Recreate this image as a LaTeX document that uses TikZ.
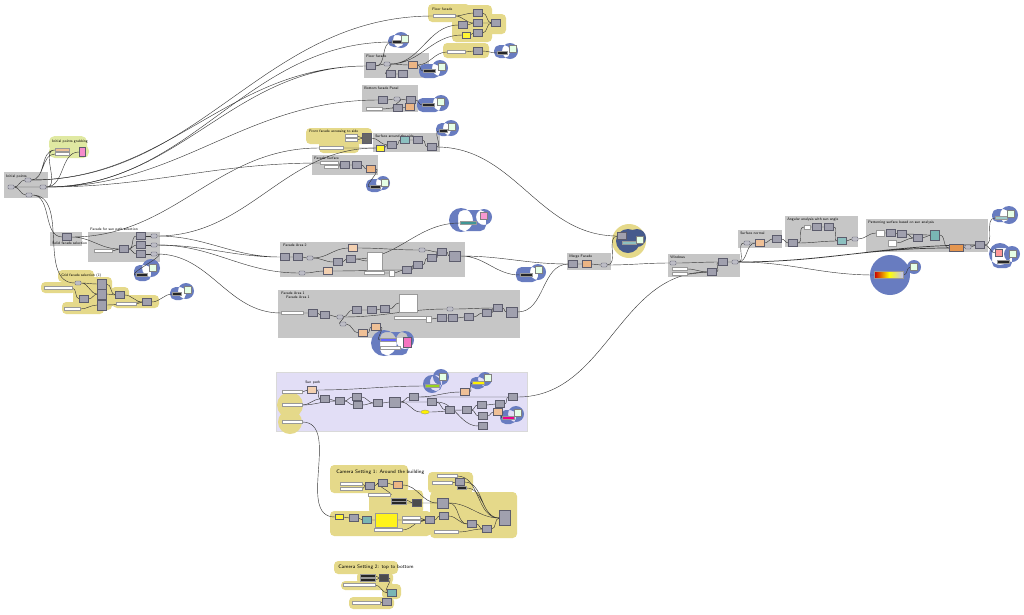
\documentclass[tikz,border=0pt]{standalone}
\usepackage{tikz}
\usepackage{xcolor}
\usetikzlibrary{positioning,fit,shapes.geometric}
\definecolor{grpgray}{RGB}{198,198,198}
\definecolor{compfill}{RGB}{160,160,174}
\definecolor{compedge}{RGB}{92,92,108}
\definecolor{yelblob}{RGB}{229,217,138}
\definecolor{limeblob}{RGB}{224,233,162}
\definecolor{blublob}{RGB}{104,124,192}
\definecolor{darkblob}{RGB}{70,90,140}
\definecolor{lavgrp}{RGB}{226,222,246}
\definecolor{orng}{RGB}{228,150,80}
\definecolor{tealc}{RGB}{64,150,150}
\definecolor{wirec}{RGB}{55,55,55}
\pgfdeclarelayer{back}
\pgfdeclarelayer{mid}
\pgfsetlayers{back,mid,main}

\begin{document}
\begin{tikzpicture}[
x=0.025cm, y=-0.025cm,
grp/.style={fill=grpgray, inner sep=0pt},
comp/.style={draw=compedge, fill=compfill, minimum width=0.22cm, minimum height=0.17cm, inner sep=0pt, line width=0.2pt},
bigcomp/.style={comp, minimum width=0.28cm, minimum height=0.26cm},
param/.style={draw=compedge, fill=compfill!70, rounded corners=0.6pt, minimum width=0.15cm, minimum height=0.1cm, inner sep=0pt, line width=0.2pt},
slider/.style={draw=black!40, fill=white, minimum width=0.42cm, minimum height=0.07cm, inner sep=0pt, line width=0.2pt},
darkbar/.style={slider, fill=black!85, minimum width=0.28cm},
panel/.style={draw=black!50, fill=green!10, minimum width=0.17cm, minimum height=0.17cm, inner sep=0pt, line width=0.2pt},
graph/.style={draw=black!40, fill=white, inner sep=0pt, line width=0.2pt},
glabel/.style={anchor=north west, inner sep=0pt, font=\sffamily\fontsize{2.6}{3}\selectfont},
camlabel/.style={anchor=north west, inner sep=0pt, font=\sffamily\fontsize{3.6}{4}\selectfont},
yblob/.style={fill=yelblob, rounded corners=3pt},
bblob/.style={fill=blublob, rounded corners=4pt},
wire/.style={draw=wirec, line width=0.3pt},
lr/.style={out=0, in=180}
]
\useasboundingbox (0,0) rectangle (1024,614);

% groups and blobs
\begin{pgfonlayer}{back}
\fill[white] (0,0) rectangle (1024,614);
\node[grp, fit={(4,172) (48,198)}] (gInit) {};
\node[grp, fit={(50,232) (82,246)}] (gSolid) {};
\node[grp, fit={(88,232) (160,262)}] (gSel) {};
\node[grp, fit={(364,53) (429,78)}] (gFloor) {};
\node[grp, fit={(362,85) (418,112)}] (gBottom) {};
\node[grp, fit={(373,133) (440,152)}] (gSide) {};
\node[grp, fit={(312,155) (378,175)}] (gSurf) {};
\node[grp, fit={(280,242) (465,277)}] (gArea2) {};
\node[grp, fit={(278,290) (520,338)}] (gArea1) {};
\node[grp, fill=lavgrp, draw=black!15, line width=0.2pt, fit={(276,372) (527,431)}] (gSun) {};
\node[grp, fit={(567,253) (611,270)}] (gMerge) {};
\node[grp, fit={(668,254) (740,277)}] (gWin) {};
\node[grp, fit={(738,230) (782,248)}] (gNormal) {};
\node[grp, fit={(785,216) (858,247)}] (gAngle) {};
\node[grp, fit={(866,219) (988,252)}] (gPattern) {};
% yellow blobs
\fill[limeblob, rounded corners=4pt] (49,136) rectangle (87,152) (49,145) rectangle (89,158);
\fill[yblob] (428,4) rectangle (470,22) (452,5) rectangle (492,42) (476,14) rectangle (506,34);
\fill[yblob] (443,43) rectangle (489,58);
\fill[yblob] (306,128) rectangle (372,144) (319,141) rectangle (359,153);
\fill[yblob] (58,270) rectangle (94,282) (41,282) rectangle (76,293) (73,277) rectangle (112,310)
  (62,302) rectangle (104,314) (111,287) rectangle (129,307) (113,295) rectangle (159,308);
\fill[yblob] (330,465) rectangle (408,493) (369,490) rectangle (423,514) (330,511) rectangle (431,536)
  (428,472) rectangle (473,493) (430,492) rectangle (517,538);
\fill[yblob] (334,561) rectangle (398,574) (357,572) rectangle (393,584) (341,581) rectangle (393,590)
  (382,584) rectangle (401,599) (349,597) rectangle (394,609);
\fill[yelblob] (290,405) circle (13) (290,422) circle (12);
\fill[yelblob] (629,241) circle (17);
% blue blobs
\fill[bblob] (401,40) circle (8) (388,35) rectangle (404,47);
\fill[bblob] (510,51) circle (8) (494,45) rectangle (510,58);
\fill[bblob] (440,68) circle (8) (419,64) rectangle (440,78);
\fill[bblob] (441,103) circle (8) (417,98) rectangle (441,112);
\fill[bblob] (451,128) circle (8) (436,123) rectangle (451,136);
\fill[bblob] (383,183) circle (7) (366,179) rectangle (383,192);
\fill[bblob] (461,220) circle (12) (484,217) circle (8) (458,210) rectangle (486,231);
\fill[bblob] (151,268) circle (9) (134,265) rectangle (151,281);
\fill[bblob] (186,291) circle (8) (170,287) rectangle (186,300);
\fill[bblob] (538,272) circle (8) (516,267) rectangle (538,282);
\fill[bblob] (384,343) circle (13) (405,340) circle (9) (380,332) rectangle (408,355);
\fill[bblob] (432,384) circle (9) (441,377) circle (8) (430,375) rectangle (442,391);
\fill[bblob] (485,379) circle (7) (470,377) rectangle (485,389);
\fill[bblob] (516,414) circle (8) (500,410) rectangle (516,424);
\fill[darkblob] (628,241) circle (12) (637,238) circle (9);
\fill[bblob] (890,275) circle (20) (914,267) circle (7);
\fill[bblob] (1009,215) circle (9) (992,209) rectangle (1009,222);
\fill[bblob] (1000,254) circle (11) (1012,254) circle (8) (992,248) rectangle (1012,268);
\end{pgfonlayer}

% group titles
\node[glabel] at (6,175) {Initial points};
\node[glabel] at (52,140) {Initial points grabbing};
\node[glabel] at (52,242) {Solid facade selection};
\node[glabel] at (90,228) {Facade for sun path selection};
\node[glabel] at (61,273) {Grid facade selection (ii)};
\node[glabel] at (366,55) {Floor facade};
\node[glabel] at (364,87) {Bottom facade Panel};
\node[glabel] at (309,130) {Front facade accessing to side};
\node[glabel] at (375,135) {Surface around the side};
\node[glabel] at (314,157) {Facade Surface};
\node[glabel] at (432,8) {Floor facade};
\node[glabel] at (283,244) {Facade Area 2};
\node[glabel] at (281,292) {Facade Area 1};
\node[glabel] at (286,296) {Facade Area 1};
\node[glabel] at (305,381) {Sun path};
\node[camlabel] at (336,470) {Camera Setting 1: Around the building};
\node[camlabel] at (338,565) {Camera Setting 2: top to bottom};
\node[glabel] at (569,255) {Merge Facade};
\node[glabel] at (670,256) {Windows};
\node[glabel] at (740,232) {Surface normal};
\node[glabel] at (787,218) {Angular analysis with sun angle};
\node[glabel] at (868,221) {Patterning surface based on sun analysis};

% initial points
\node[param] (i1) at (28,180) {};
\node[param] (i2) at (11,187) {};
\node[param] (i3) at (43,187) {};
\node[param] (i4) at (29,195) {};
\node[slider, minimum width=0.35cm, fill=orng!60] (g1) at (62,150) {};
\node[slider, minimum width=0.35cm] (g2) at (62,154) {};
\node[comp, fill=magenta!45, minimum width=0.15cm, minimum height=0.22cm] (g3) at (82,152) {};

% facade selection
\node[comp] (s1) at (67,237) {};
\node[slider, minimum width=0.45cm] (sl1) at (103,251) {};
\node[comp] (p1) at (124,249) {};
\node[comp] (p2) at (141,236) {};
\node[comp] (p3) at (141,245) {};
\node[comp] (p4) at (141,254) {};
\node[param] (q2) at (154,236) {};
\node[param] (q3) at (154,245) {};
\node[param] (q4) at (154,254) {};
\node[darkbar] (bs8) at (142,275) {};
\node[panel] (bp8) at (153,268) {};

% grid facade
\node[param] (gf1) at (78,283) {};
\node[slider, minimum width=0.7cm] (gfs1) at (58,288) {};
\node[comp, minimum height=0.25cm] (gf2) at (102,284) {};
\node[comp, minimum height=0.25cm] (gf3) at (102,294) {};
\node[comp, minimum height=0.25cm] (gf4) at (102,305) {};
\node[comp] (gf5) at (84,299) {};
\node[comp] (gf6) at (120,295) {};
\node[slider, minimum width=0.4cm] (gfs2) at (72,309) {};
\node[slider, minimum width=0.5cm] (gfs3) at (126,304) {};
\node[comp] (gf7) at (147,302) {};
\node[darkbar, minimum width=0.22cm] (bs9) at (177,294) {};
\node[panel] (bp9) at (188,290) {};

% floor facade
\node[comp] (ff1) at (371,66) {};
\node[param] (ff2) at (387,64) {};
\node[comp, fill=orng!70] (ff3) at (413,65) {};
\node[comp] (ff4) at (391,74) {};
\node[comp] (ff5) at (403,74) {};
\node[darkbar, minimum width=0.3cm] (bs3) at (429,71) {};
\node[panel] (bp3) at (442,67) {};
\node[darkbar, minimum width=0.25cm] (bs1) at (397,42) {};
\node[panel] (bp1) at (405,39) {};

% bottom facade panel
\node[slider, minimum width=0.4cm] (bfs) at (374,109) {};
\node[comp] (bf1) at (383,100) {};
\node[param] (bf2) at (397,99) {};
\node[comp] (bf3) at (411,100) {};
\node[comp] (bf4) at (398,108) {};
\node[comp, fill=orng!70] (bf5) at (410,107) {};
\node[darkbar, minimum width=0.3cm] (bs4) at (428,105) {};
\node[panel] (bp4) at (441,102) {};

% front facade
\node[slider, minimum width=0.3cm] (ffs1) at (351,136) {};
\node[slider, minimum width=0.3cm] (ffs2) at (351,140) {};
\node[slider, minimum width=0.6cm] (ffs3) at (331,148) {};
\node[comp, fill=black!60, minimum height=0.25cm] (ffc) at (367,138) {};

% surface around the side
\node[comp, fill=yellow!80, minimum width=0.2cm, minimum height=0.14cm] (sa1) at (380,148) {};
\node[comp] (sa2) at (392,145) {};
\node[comp, fill=tealc!60] (sa3) at (405,140) {};
\node[comp] (sa4) at (418,140) {};
\node[comp] (sa5) at (432,147) {};
\node[darkbar, minimum width=0.2cm] (bs5) at (443,131) {};
\node[panel] (bp5) at (452,127) {};

% facade surface
\node[slider, minimum width=0.45cm] (fs0) at (329,163) {};
\node[slider, minimum width=0.35cm] (fs4) at (331,167) {};
\node[comp] (fs1) at (345,165) {};
\node[comp] (fs2) at (357,165) {};
\node[comp, fill=orng!70] (fs3) at (371,169) {};
\node[darkbar, minimum width=0.25cm] (bs6) at (375,187) {};
\node[panel] (bp6) at (385,183) {};

% top floor facade
\node[slider, minimum width=0.55cm] (tfs) at (444,16) {};
\node[comp] (tf1) at (478,13) {};
\node[comp] (tf2) at (478,23) {};
\node[comp] (tf3) at (478,33) {};
\node[comp] (tf4) at (463,25) {};
\node[comp, fill=yellow!80, minimum width=0.2cm, minimum height=0.14cm] (tf5) at (466,35) {};
\node[comp] (tf6) at (496,23) {};
\node[slider, minimum width=0.45cm] (ys1) at (456,52) {};
\node[comp] (yc1) at (478,51) {};
\node[darkbar, minimum width=0.25cm] (bs2) at (502,53) {};
\node[panel] (bp2) at (513,49) {};

% facade area 2
\node[comp] (a1) at (285,257) {};
\node[comp] (a2) at (298,257) {};
\node[param] (a3) at (310,258) {};
\node[comp, fill=orng!45] (a4) at (328,271) {};
\node[comp] (a5) at (338,262) {};
\node[comp] (a6) at (351,259) {};
\node[comp, fill=orng!45] (a16) at (353,248) {};
\node[graph, minimum width=0.38cm, minimum height=0.45cm] (ag) at (375,261) {};
\node[param] (a7) at (302,273) {};
\node[slider, minimum width=0.5cm] (as1) at (374,273) {};
\node[graph, minimum width=0.13cm, minimum height=0.14cm] (a9) at (392,273) {};
\node[comp] (a10) at (407,270) {};
\node[comp] (a11) at (418,265) {};
\node[comp] (a12) at (432,258) {};
\node[param] (a13) at (422,250) {};
\node[comp] (a14) at (442,252) {};
\node[bigcomp] (a15) at (455,256) {};

% facade area 1
\node[slider, minimum width=0.55cm] (bs10a) at (292,313) {};
\node[comp] (b1) at (313,313) {};
\node[comp] (b2) at (325,315) {};
\node[param] (b3) at (340,317) {};
\node[comp] (b4) at (357,310) {};
\node[comp] (b5) at (372,310) {};
\node[comp] (b6) at (385,309) {};
\node[graph, minimum width=0.45cm, minimum height=0.45cm] (bg) at (408,303) {};
\node[slider, minimum width=0.8cm] (bs2a) at (410,318) {};
\node[graph, minimum width=0.13cm, minimum height=0.14cm] (b7) at (429,319) {};
\node[comp] (b8) at (442,318) {};
\node[comp] (b9) at (453,318) {};
\node[comp] (b10) at (469,317) {};
\node[comp] (b11) at (487,313) {};
\node[comp] (b12) at (498,308) {};
\node[bigcomp] (b13) at (512,312) {};
\node[param] (b14) at (450,309) {};
\node[param] (b15) at (343,324) {};
\node[comp, fill=orng!60] (b16) at (363,333) {};
\node[comp, fill=orng!60] (b17) at (376,327) {};
\node[slider, minimum width=0.4cm, fill=blue!60] (bs11) at (388,340) {};
\node[slider, minimum width=0.5cm] (bs12) at (390,348) {};
\node[comp, fill=magenta!55, minimum width=0.2cm, minimum height=0.25cm] (bp11) at (407,342) {};
\node[darkbar, minimum width=0.3cm] (bs10) at (526,275) {};
\node[panel] (bp10) at (539,270) {};
\node[darkbar, fill=tealc, minimum width=0.4cm] (bs7) at (468,223) {};
\node[panel, fill=magenta!40] (bp7) at (484,216) {};

% sun path
\node[slider, minimum width=0.5cm] (cs1) at (292,392) {};
\node[slider, minimum width=0.5cm] (cs2) at (292,405) {};
\node[slider, minimum width=0.5cm] (cs3) at (292,422) {};
\node[comp, fill=orng!45] (c1) at (312,390) {};
\node[comp] (c2) at (325,399) {};
\node[comp] (c3) at (340,401) {};
\node[comp] (c4) at (357,397) {};
\node[comp] (c5) at (358,405) {};
\node[comp] (c6) at (378,403) {};
\node[bigcomp] (c7) at (395,402) {};
\node[comp] (c8) at (414,397) {};
\node[comp] (c9) at (432,402) {};
\node[comp, fill=orng!60] (c10) at (465,392) {};
\node[comp] (c11) at (450,410) {};
\node[comp] (c12) at (467,410) {};
\node[comp] (c13) at (482,405) {};
\node[comp] (c14) at (483,416) {};
\node[comp] (c15) at (483,426) {};
\node[comp] (c16) at (500,404) {};
\node[comp, fill=orng!60] (c17) at (498,412) {};
\node[comp] (c18) at (513,397) {};
\node[draw=black!50, fill=yellow, ellipse, minimum width=0.22cm, minimum height=0.1cm, inner sep=0pt, line width=0.2pt] (cy) at (425,412) {};
\node[slider, minimum width=0.35cm, fill=yellow!60!green] (bs12b) at (432,386) {};
\node[panel] (bp12) at (443,377) {};
\node[slider, minimum width=0.3cm, fill=yellow] (bs13) at (478,383) {};
\node[panel] (bp13) at (488,378) {};
\node[slider, minimum width=0.3cm, fill=magenta] (bs14) at (508,418) {};
\node[panel] (bp14) at (518,413) {};

% camera setting 1
\node[slider, minimum width=0.55cm] (k1) at (351,484) {};
\node[slider, minimum width=0.55cm] (k2) at (351,489) {};
\node[comp] (k3) at (370,486) {};
\node[comp] (k4) at (383,483) {};
\node[comp, fill=orng!70] (k5) at (398,485) {};
\node[slider, minimum width=0.55cm] (k6) at (379,495) {};
\node[darkbar, minimum width=0.38cm] (k7) at (399,500) {};
\node[darkbar, minimum width=0.38cm] (k8) at (399,503) {};
\node[comp, fill=black!70] (k9) at (417,503) {};
\node[comp, fill=yellow!80, minimum width=0.2cm, minimum height=0.12cm] (k10) at (339,517) {};
\node[comp] (k11) at (354,518) {};
\node[comp, fill=tealc!70] (k12) at (367,520) {};
\node[draw=black!40, fill=yellow!90, minimum width=0.55cm, minimum height=0.35cm, inner sep=0pt, line width=0.2pt] (k13) at (386,520) {};
\node[slider, minimum width=0.45cm] (k14) at (411,518) {};
\node[slider, minimum width=0.45cm] (k15) at (411,522) {};
\node[comp] (k16) at (430,520) {};
\node[comp] (k17) at (444,516) {};
\node[bigcomp] (k18) at (443,503) {};
\node[slider, minimum width=0.7cm] (k19) at (388,530) {};
\node[slider, minimum width=0.5cm] (k20) at (447,476) {};
\node[slider, minimum width=0.5cm] (k21) at (442,483) {};
\node[comp] (k22) at (460,482) {};
\node[darkbar, minimum width=0.22cm] (k23) at (462,488) {};
\node[comp] (k24) at (472,524) {};
\node[comp] (k25) at (487,529) {};
\node[comp, minimum width=0.28cm, minimum height=0.38cm] (k26) at (505,518) {};
\node[slider, minimum width=0.6cm] (k27) at (446,532) {};

% camera setting 2
\node[darkbar, minimum width=0.38cm] (m21) at (368,576) {};
\node[darkbar, minimum width=0.38cm] (m22) at (368,580) {};
\node[comp, fill=black!70] (m23) at (384,578) {};
\node[slider, minimum width=0.8cm] (m24) at (359,585) {};
\node[comp, fill=tealc!70] (m25) at (392,593) {};
\node[slider, minimum width=0.7cm] (m26) at (366,603) {};
\node[comp] (m27) at (387,602) {};

% merge facade, windows
\node[comp] (m1) at (573,264) {};
\node[comp, fill=orng!70] (m2) at (587,264) {};
\node[param] (m3) at (604,265) {};
\node[comp] (mb1) at (622,236) {};
\node[slider, minimum width=0.35cm, fill=tealc!60] (mbs) at (629,243) {};
\node[panel] (mbp) at (640,240) {};
\node[param] (w1) at (673,263) {};
\node[slider, minimum width=0.38cm] (ws1) at (680,269) {};
\node[slider, minimum width=0.38cm] (ws2) at (680,274) {};
\node[comp] (w4) at (712,272) {};
\node[comp] (w5) at (723,262) {};
\node[param] (w6) at (735,262) {};

% surface normal, angle, pattern
\node[param] (n1) at (747,243) {};
\node[comp, fill=orng!60] (n2) at (760,243) {};
\node[comp] (n3) at (777,239) {};
\node[comp] (an1) at (793,243) {};
\node[graph, minimum width=0.15cm, minimum height=0.1cm] (an2) at (807,227) {};
\node[comp] (an3) at (817,227) {};
\node[comp] (an4) at (829,227) {};
\node[comp, fill=tealc!60] (an5) at (842,241) {};
\node[param] (an6) at (855,239) {};
\node[graph, minimum width=0.2cm, minimum height=0.14cm] (pt1) at (880,233) {};
\node[comp] (pt2) at (891,233) {};
\node[comp] (pt3) at (902,234) {};
\node[graph, minimum width=0.2cm, minimum height=0.14cm] (pt4) at (892,243) {};
\node[comp] (pt5) at (918,238) {};
\node[comp, fill=tealc!70, minimum height=0.25cm] (pt6) at (935,235) {};
\node[comp, fill=orng, minimum width=0.35cm] (pt7) at (956,248) {};
\node[param] (pt8) at (968,247) {};
\node[comp] (pt9) at (980,245) {};
\node[draw=black!40, left color=red!80!black, right color=blue!25, middle color=yellow, minimum width=0.72cm, minimum height=0.17cm, inner sep=0pt, line width=0.2pt] (gbar) at (889,275) {};
\node[panel] (gp) at (914,267) {};
\node[slider, minimum width=0.3cm, fill=tealc!50] (rs1) at (1001,218) {};
\node[panel] (rp1) at (1011,214) {};
\node[comp, fill=red!40, minimum width=0.18cm] (rc2) at (999,253) {};
\node[darkbar, minimum width=0.3cm] (rs2) at (1003,262) {};
\node[panel] (rp2) at (1013,254) {};

% connectors
\begin{pgfonlayer}{mid}
\draw[wire] (i2.east) to[lr] (i1.west) (i2.east) to[lr] (i3.west) (i2.east) to[lr] (i4.west);
\draw[wire] (i1.east) to[lr] (g1.west) (i1.east) to[lr] (g2.west) (i3.east) to[lr] (g1.west) (i3.east) to[lr] (g3.west);
\draw[wire] (i1.east) to[lr] (ff1.west) (i3.east) to[lr] (ff1.west) (i3.east) to[lr] (bf1.west);
\draw[wire] (i1.east) to[lr] (tfs.west) (i3.east) to[lr] (bs1.west);
\draw[wire] (i4.east) to[lr] (s1.west) (i4.east) to[lr] (gf1.west) (i3.east) to[lr] (fs0.west);
\draw[wire] (s1.east) to[lr] (p1.west) (s1.east) to[lr] (ffs3.west) (sl1.east) to[lr] (p1.west);
\draw[wire] (p1.east) to[lr] (p2.west) (p1.east) to[lr] (p3.west) (p1.east) to[lr] (p4.west);
\draw[wire] (p2.east) to[lr] (q2.west) (p3.east) to[lr] (q3.west) (p4.east) to[lr] (q4.west);
\draw[wire] (q2.east) to[lr] (sa1.west) (q2.east) to[lr] (a1.west) (q3.east) to[lr] (a1.west);
\draw[wire] (q3.east) to[lr] (a7.west) (q4.east) to[lr] (bs10a.west) (q4.east) to[lr] (bs8.west);
\draw[wire] (gf1.east) to[lr] (gf2.west) (gf1.east) to[lr] (gf3.west) (gfs1.east) to[lr] (gf5.west);
\draw[wire] (gf5.east) to[lr] (gf3.west) (gfs2.east) to[lr] (gf4.west) (gf2.east) to[lr] (gf6.west);
\draw[wire] (gf3.east) to[lr] (gf6.west) (gf6.east) to[lr] (gf7.west) (gf4.east) to[lr] (gf7.west);
\draw[wire] (gfs3.east) to[lr] (gf7.west) (gf7.east) to[lr] (bs9.west);
\draw[wire] (ff1.east) to[lr] (ff2.west) (ff2.east) to[lr] (ff3.west) (ff3.east) to[lr] (bs3.west);
\draw[wire] (ff2.east) to[lr] (ff4.west) (ff4.east) to[lr] (ff5.west) (ff1.east) to[lr] (bs1.west);
\draw[wire] (ff2.east) to[lr] (tf4.west) (ff2.east) to[lr] (tf5.west) (ff3.east) to[lr] (ys1.west);
\draw[wire] (bfs.east) to[lr] (bf4.west) (bf1.east) to[lr] (bf2.west) (bf2.east) to[lr] (bf3.west);
\draw[wire] (bf3.east) to[lr] (bs4.west) (bf4.east) to[lr] (bf5.west) (bf2.east) to[lr] (bf4.west);
\draw[wire] (ffs1.east) to[lr] (ffc.west) (ffs2.east) to[lr] (ffc.west) (ffs3.east) to[lr] (sa1.west);
\draw[wire] (ffc.east) to[lr] (sa2.west) (sa1.east) to[lr] (sa2.west) (sa2.east) to[lr] (sa3.west);
\draw[wire] (sa3.east) to[lr] (sa4.west) (sa4.east) to[lr] (sa5.west) (sa5.east) to[lr] (bs5.west);
\draw[wire] (sa5.east) to[lr] (mb1.west);
\draw[wire] (fs0.east) to[lr] (fs1.west) (fs4.east) to[lr] (fs1.west) (fs1.east) to[lr] (fs2.west);
\draw[wire] (fs2.east) to[lr] (fs3.west) (fs3.east) to[lr] (bs6.west);
\draw[wire] (tfs.east) to[lr] (tf1.west) (tfs.east) to[lr] (tf2.west) (tf4.east) to[lr] (tf2.west);
\draw[wire] (tf5.east) to[lr] (tf3.west) (tf1.east) to[lr] (tf6.west) (tf2.east) to[lr] (tf6.west);
\draw[wire] (tf3.east) to[lr] (tf6.west) (ys1.east) to[lr] (yc1.west) (yc1.east) to[lr] (bs2.west);
\draw[wire] (a1.east) to[lr] (a2.west) (a2.east) to[lr] (a3.west) (a3.east) to[lr] (a5.west);
\draw[wire] (a3.east) to[lr] (a16.west) (a7.east) to[lr] (a4.west) (a5.east) to[lr] (a6.west);
\draw[wire] (a4.east) to[lr] (a10.west) (a6.east) to[lr] (ag.west) (a16.east) to[lr] (a13.west);
\draw[wire] (as1.east) to[lr] (a9.west) (a9.east) to[lr] (a10.west) (a10.east) to[lr] (a11.west);
\draw[wire] (a11.east) to[lr] (a12.west) (a12.east) to[lr] (a14.west) (a13.east) to[lr] (a14.west);
\draw[wire] (a14.east) to[lr] (a15.west) (a15.east) to[lr] (m1.west) (a15.east) to[lr] (bs10.west);
\draw[wire] (a6.east) to[lr] (bs7.west);
\draw[wire] (bs10a.east) to[lr] (b1.west) (b1.east) to[lr] (b2.west) (b2.east) to[lr] (b3.west);
\draw[wire] (b3.east) to[lr] (b4.west) (b4.east) to[lr] (b5.west) (b5.east) to[lr] (b6.west);
\draw[wire] (b6.east) to[lr] (bg.west) (b3.east) to[lr] (b15.west) (b15.east) to[lr] (b16.west);
\draw[wire] (b16.east) to[lr] (b17.west) (b17.east) to[lr] (bs11.west) (b3.east) to[lr] (b14.west);
\draw[wire] (bs2a.east) to[lr] (b7.west) (b7.east) to[lr] (b8.west) (b8.east) to[lr] (b9.west);
\draw[wire] (b9.east) to[lr] (b10.west) (b10.east) to[lr] (b11.west) (b11.east) to[lr] (b12.west);
\draw[wire] (b14.east) to[lr] (b12.west) (b12.east) to[lr] (b13.west) (b13.east) to[lr] (m1.west);
\draw[wire] (cs1.east) to[lr] (c1.west) (c1.east) to[lr] (c2.west) (cs2.east) to[lr] (c2.west);
\draw[wire] (c1.east) to[lr] (bs12b.west) (c2.east) to[lr] (c3.west) (c3.east) to[lr] (c4.west);
\draw[wire] (c3.east) to[lr] (c5.west) (c4.east) to[lr] (c6.west) (c5.east) to[lr] (c6.west);
\draw[wire] (c6.east) to[lr] (c7.west) (c7.east) to[lr] (c8.west) (c7.east) to[lr] (c9.west);
\draw[wire] (c7.east) to[lr] (cy.west) (c8.east) to[lr] (c10.west) (c9.east) to[lr] (c11.west);
\draw[wire] (c9.east) to[lr] (c15.west) (cy.east) to[lr] (c12.west) (c11.east) to[lr] (c12.west);
\draw[wire] (c10.east) to[lr] (bs13.west) (c12.east) to[lr] (c13.west) (c12.east) to[lr] (c14.west);
\draw[wire] (c13.east) to[lr] (c16.west) (c14.east) to[lr] (c17.west) (c16.east) to[lr] (c18.west);
\draw[wire] (c17.east) to[lr] (bs14.west) (c8.east) to[lr] (c18.west) (c18.east) to[lr] (w4.west);
\draw[wire] (cs3.east) to[lr] (k10.west) (cs2.east) to[lr] (c3.west);
\draw[wire] (k1.east) to[lr] (k3.west) (k2.east) to[lr] (k3.west) (k3.east) to[lr] (k4.west);
\draw[wire] (k4.east) to[lr] (k5.west) (k6.east) to[lr] (k4.west) (k5.east) to[lr] (k18.west);
\draw[wire] (k7.east) to[lr] (k9.west) (k8.east) to[lr] (k9.west) (k9.east) to[lr] (k18.west);
\draw[wire] (k10.east) to[lr] (k11.west) (k11.east) to[lr] (k12.west) (k12.east) to[lr] (k13.west);
\draw[wire] (k13.east) to[lr] (k16.west) (k14.east) to[lr] (k16.west) (k15.east) to[lr] (k16.west);
\draw[wire] (k16.east) to[lr] (k17.west) (k19.east) to[lr] (k16.west) (k18.east) to[lr] (k24.west);
\draw[wire] (k17.east) to[lr] (k24.west) (k24.east) to[lr] (k25.west) (k27.east) to[lr] (k25.west);
\draw[wire] (k25.east) to[lr] (k26.west) (k20.east) to[lr] (k26.west) (k21.east) to[lr] (k22.west);
\draw[wire] (k22.east) to[lr] (k26.west) (k23.east) to[lr] (k26.west) (k18.east) to[lr] (k26.west);
\draw[wire] (m21.east) to[lr] (m23.west) (m22.east) to[lr] (m23.west) (m23.east) to[lr] (m25.west);
\draw[wire] (m24.east) to[lr] (m25.west) (m26.east) to[lr] (m27.west);
\draw[wire] (m1.east) to[lr] (m2.west) (m2.east) to[lr] (m3.west) (m3.east) to[lr] (mb1.west);
\draw[wire] (m3.east) to[lr] (w1.west) (w1.east) to[lr] (w5.west) (ws1.east) to[lr] (w4.west);
\draw[wire] (ws2.east) to[lr] (w4.west) (w4.east) to[lr] (w5.west) (w5.east) to[lr] (w6.west);
\draw[wire] (w6.east) to[lr] (n1.west) (w6.east) to[lr] (n2.west) (w6.east) to[lr] (gbar.west);
\draw[wire, line width=0.5pt] (w6.east) to[lr] (pt9.west) (w6.east) to[lr] (pt7.west);
\draw[wire] (n1.east) to[lr] (n2.west) (n2.east) to[lr] (n3.west) (n3.east) to[lr] (an1.west);
\draw[wire] (an1.east) to[lr] (an2.west) (an2.east) to[lr] (an3.west) (an3.east) to[lr] (an4.west);
\draw[wire] (an4.east) to[lr] (an5.west) (an1.east) to[lr] (an5.west) (an5.east) to[lr] (an6.west);
\draw[wire] (an6.east) to[lr] (pt1.west) (pt1.east) to[lr] (pt2.west) (pt2.east) to[lr] (pt3.west);
\draw[wire] (pt3.east) to[lr] (pt5.west) (pt4.east) to[lr] (pt5.west) (pt5.east) to[lr] (pt6.west);
\draw[wire] (pt3.east) to[lr] (pt6.west) (pt6.east) to[lr] (pt7.west) (pt7.east) to[lr] (pt8.west);
\draw[wire] (pt8.east) to[lr] (pt9.west) (pt9.east) to[lr] (rs1.west) (pt9.east) to[lr] (rc2.west);
\draw[wire] (gbar.east) to[lr] (gp.west);
\end{pgfonlayer}
\end{tikzpicture}
\end{document}
